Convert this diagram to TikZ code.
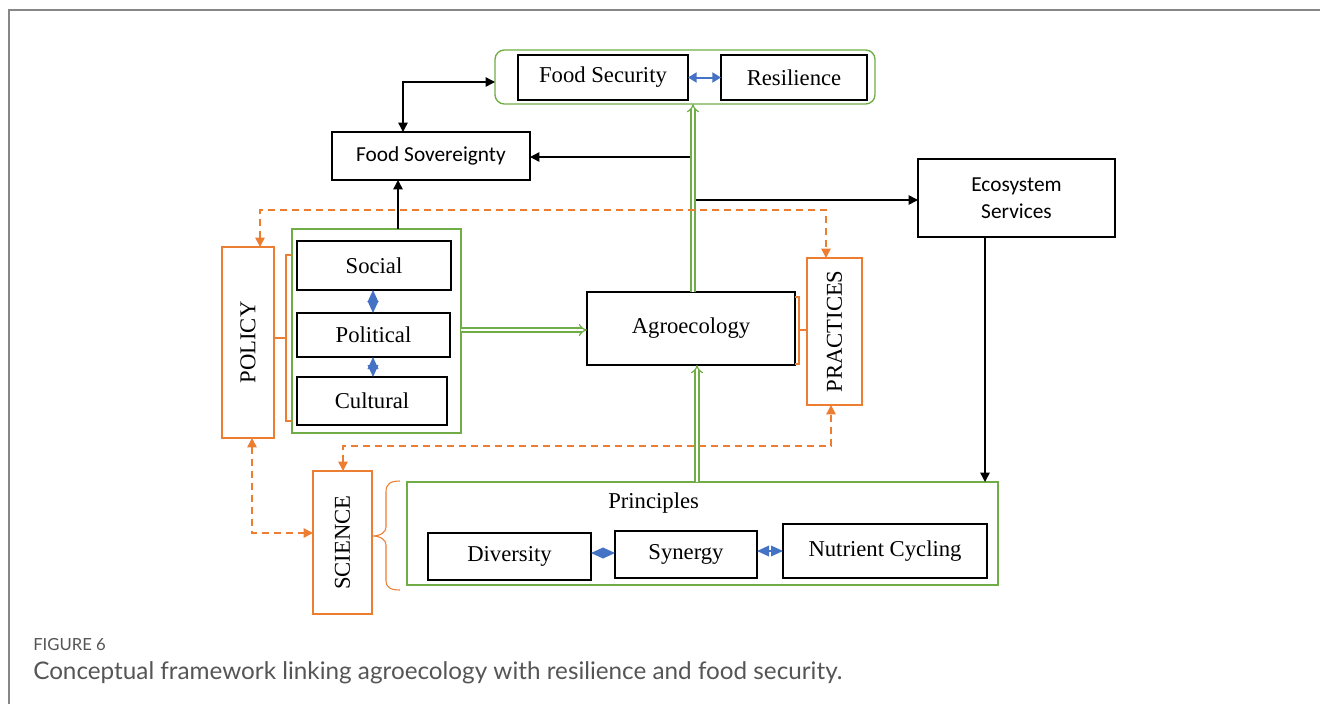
\documentclass[tikz,border=0pt]{standalone}
\usepackage{fontspec}
\setmainfont{Liberation Serif}
\newfontfamily\calib{Carlito}
\newfontfamily\capfont{Lato}
\usetikzlibrary{arrows.meta}
\definecolor{agreen}{RGB}{112,173,71}
\definecolor{aorange}{RGB}{237,125,49}
\definecolor{ablue}{RGB}{68,114,196}
\definecolor{framegray}{RGB}{135,135,135}
\definecolor{capgray}{RGB}{85,85,85}
\tikzset{
  box/.style={draw=black, line width=1.1pt, inner sep=0pt, outer sep=0pt, font=\fontsize{17}{20}\selectfont},
  sbox/.style={box, font=\calib\fontsize{16}{20}\selectfont, align=center},
  gbox/.style={draw=agreen, line width=1pt, inner sep=0pt, outer sep=0pt},
  obox/.style={draw=aorange, line width=1.1pt, inner sep=0pt, outer sep=0pt, font=\fontsize{17}{20}\selectfont},
  arr/.style={draw=black, line width=1.1pt, -{Triangle[length=7pt,width=7pt]}},
  darr/.style={draw=black, line width=1.1pt, {Triangle[length=7pt,width=7pt]}-{Triangle[length=7pt,width=7pt]}},
  garr/.style={draw=agreen, line width=0.9pt, double=white, double distance=2.2pt, -{Implies}},
  odash/.style={draw=aorange, line width=1.1pt, dash pattern=on 5pt off 4pt, {Triangle[length=7pt,width=7pt]}-{Triangle[length=7pt,width=7pt]}},
  diam/.style={draw=ablue, fill=ablue, line width=1pt, {Triangle[length=9pt,width=8pt]}-{Triangle[length=9pt,width=8pt]}},
  barr/.style={draw=ablue, line width=1.5pt, {Triangle[length=6.5pt,width=7.5pt]}-{Triangle[length=6.5pt,width=7.5pt]}},
  brk/.style={draw=aorange, line width=0.8pt},
}
\begin{document}
\begin{tikzpicture}[x=0.75pt, y=-0.75pt]
\useasboundingbox (0,0) rectangle (1320,704);
\draw[framegray, line width=1.6pt] (9,704) -- (9,10) -- (1320,10);

% top group
\node[gbox, rounded corners=7pt, minimum width=380*0.75pt, minimum height=54*0.75pt] (fsg) at (685,77) {};
\node[box, minimum width=170*0.75pt, minimum height=45*0.75pt] (fsec) at (603,77.5) {Food Security};
\node[box, minimum width=146*0.75pt, minimum height=45*0.75pt] (res) at (794,77.5) {Resilience};
\draw[barr] (fsec.east) -- (res.west);

% food sovereignty & ecosystem
\node[sbox, minimum width=198*0.75pt, minimum height=48*0.75pt] (fsov) at (431,156) {Food Sovereignty};
\node[sbox, minimum width=197*0.75pt, minimum height=78*0.75pt] (eco) at (1016.5,198) {Ecosystem\\Services};

% social group
\node[gbox, minimum width=169*0.75pt, minimum height=204*0.75pt] (socg) at (376.5,331) {};
\node[box, minimum width=154*0.75pt, minimum height=49*0.75pt] (soc) at (374,265.5) {Social};
\node[box, minimum width=153*0.75pt, minimum height=44*0.75pt] (pol) at (373.5,335) {Political};
\node[box, minimum width=150*0.75pt, minimum height=48*0.75pt] (cul) at (372,401) {Cultural};
\coordinate (dx) at (373,0);
\draw[diam] (soc.south -| dx) -- (pol.north -| dx);
\draw[diam] (pol.south -| dx) -- (cul.north -| dx);

% orange boxes
\node[obox, minimum width=52*0.75pt, minimum height=191*0.75pt] (policy) at (248,342.5) {};
\node[rotate=90, font=\fontsize{17}{20}\selectfont] (policyt) at (policy.center) {POLICY};
\node[obox, minimum width=55*0.75pt, minimum height=147*0.75pt] (prac) at (834.5,331.5) {};
\node[rotate=90, font=\fontsize{17}{20}\selectfont] (pract) at (prac.center) {PRACTICES};
\node[obox, minimum width=59*0.75pt, minimum height=143*0.75pt] (sci) at (342.5,542.5) {};
\node[rotate=90, font=\fontsize{17}{20}\selectfont] (scit) at (sci.center) {SCIENCE};

% agroecology
\node[box, minimum width=208*0.75pt, minimum height=73*0.75pt] (agro) at (691,328.5) {Agroecology};

% principles
\node[gbox, minimum width=591*0.75pt, minimum height=103*0.75pt] (prin) at (702.5,533.5) {};
\node[anchor=west, inner sep=0pt, font=\fontsize{17}{20}\selectfont] (print) at (608,503) {Principles};
\node[box, minimum width=163*0.75pt, minimum height=47*0.75pt] (div) at (509.5,556.5) {Diversity};
\node[box, minimum width=142*0.75pt, minimum height=47*0.75pt] (syn) at (686,554.5) {Synergy};
\node[box, minimum width=204*0.75pt, minimum height=54*0.75pt] (nut) at (885,551) {Nutrient Cycling};
\coordinate (dy1) at (0,553);
\coordinate (dy2) at (0,551);
\draw[diam] (div.east |- dy1) -- (syn.west |- dy1);
\draw[diam] (syn.east |- dy2) -- (nut.west |- dy2);

% black connectors
\coordinate (k1) at (403,82);
\draw[darr] (fsg.west |- k1) -| (fsov.north -| k1);
\coordinate (k2) at (398,0);
\draw[arr] (socg.north -| k2) -- (fsov.south -| k2);
\coordinate (j1) at (692,157);
\draw[arr] (j1) -- (fsov.east |- j1);
\coordinate (j2) at (696,200);
\draw[arr] (j2) -- (eco.west |- j2);
\coordinate (e1) at (985,0);
\draw[arr] (eco.south -| e1) -- (prin.north -| e1);

% green double arrows
\coordinate (g1) at (693,0);
\draw[garr] (agro.north -| g1) -- (fsg.south -| g1);
\coordinate (g2) at (697,0);
\draw[garr] (prin.north -| g2) -- (agro.south -| g2);
\coordinate (g3) at (0,330);
\draw[garr] (socg.east |- g3) -- (agro.west |- g3);

% orange dashed
\coordinate (o1) at (260,210);
\coordinate (o2) at (826,210);
\draw[odash] (policy.north -| o1) -- (o1) -- (o2) -- (prac.north -| o2);
\coordinate (o3) at (343,446);
\coordinate (o4) at (831,446);
\draw[odash] (sci.north -| o3) -- (o3) -- (o4) -- (prac.south -| o4);
\coordinate (o5) at (252,533);
\draw[odash] (policy.south -| o5) -- (o5) -- (sci.west |- o5);

% brackets
\draw[brk] (291,255) -- (286,255) -- (286,421) -- (291,421);
\draw[brk] (286,338) -- (policy.east |- 0,338);
\draw[brk] (795,297) -- (799,297) -- (799,364) -- (795,364);
\draw[brk] (799,330) -- (prac.west |- 0,330);
\draw[brk] (400,481) .. controls (390,481) and (386,484) .. (386,492) -- (386,527)
  .. controls (386,532) and (381,536) .. (sci.east |- 0,536)
  .. controls (381,536) and (386,540) .. (386,545) -- (386,581)
  .. controls (386,587) and (390,590) .. (400,590);

% caption
\node[anchor=west, inner sep=0pt, text=capgray, font=\capfont\fontsize{12.5}{14}\selectfont] (fig) at (33,645) {FIGURE 6};
\node[anchor=west, inner sep=0pt, text=capgray, font=\capfont\fontsize{18.2}{21}\selectfont] (cap) at (33,673) {Conceptual framework linking agroecology with resilience and food security.};
\end{tikzpicture}
\end{document}
